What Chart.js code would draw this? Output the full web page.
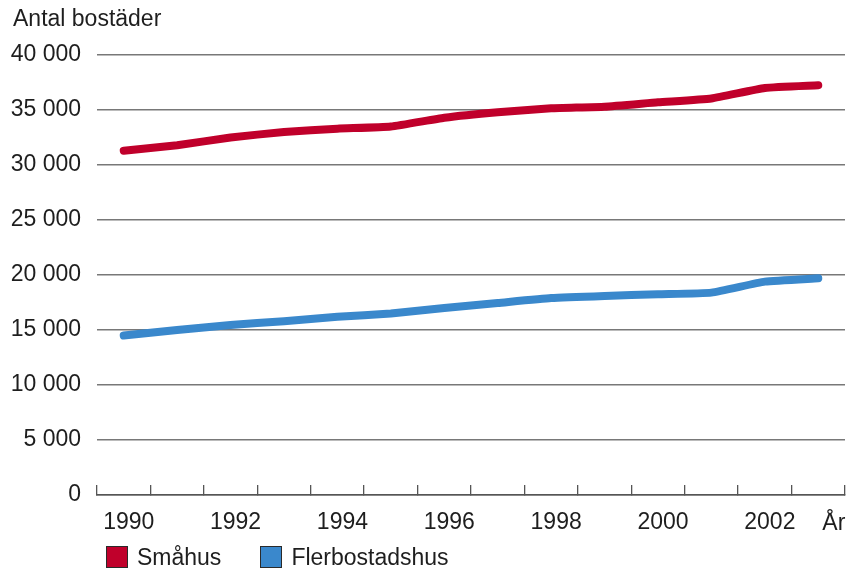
<!DOCTYPE html>
<html>
<head>
<meta charset="utf-8">
<script src="https://cdn.jsdelivr.net/npm/chart.js@4/dist/chart.umd.min.js"></script>
<style>
  html, body { margin: 0; padding: 0; background: #fff; }
  #wrap { position: relative; width: 849px; height: 570px; }
  #legend { position: absolute; left: 106px; top: 546px; display: flex; font: 23px 'Liberation Sans', Arial, sans-serif; color: #1e1e1e; line-height: 22px; }
  #legend .item { display: flex; align-items: center; margin-right: 39px; }
  #legend .box { width: 20px; height: 20px; border: 1px solid #2a2a2a; margin-right: 9px; }
</style>
</head>
<body>
<div id="wrap">
  <canvas id="c" width="849" height="570"></canvas>
  <div id="legend"></div>
</div>
<script>
// Bostadsbestånd per år
const years = ['1990','1991','1992','1993','1994','1995','1996','1997','1998','1999','2000','2001','2002','2003'];
const smahus = [31300, 31800, 32500, 33000, 33300, 33500, 34300, 34800, 35150, 35300, 35700, 36050, 37000, 37250];
const flerbostadshus = [14500, 15000, 15450, 15800, 16200, 16500, 17000, 17450, 17900, 18100, 18250, 18400, 19400, 19700];
const seriesNames = ['Småhus', 'Flerbostadshus'];
const yTitle = 'Antal bostäder';
const xTitle = 'År';

const FONT = "'Liberation Sans', Arial, sans-serif";
const TEXT = '#1e1e1e';

// axis captions: y-axis unit above the plot, x-axis unit after the last year
const axisCaptions = {
  id: 'axisCaptions',
  afterDraw(chart) {
    const { ctx, scales: { x } } = chart;
    ctx.save();
    ctx.font = '23px ' + FONT;
    ctx.fillStyle = TEXT;
    ctx.textAlign = 'left';
    ctx.textBaseline = 'alphabetic';
    ctx.fillText(yTitle, 13, 26);
    ctx.fillText(xTitle, x.getPixelForValue(years.length - 1) + 4, 530);
    ctx.restore();
  }
};

const fmt = v => String(v).replace(/\B(?=(\d{3})+(?!\d))/g, ' ');

const chart = new Chart(document.getElementById('c'), {
  type: 'line',
  data: {
    labels: years,
    datasets: [
      { label: seriesNames[0], data: smahus, borderColor: '#c0002b', backgroundColor: '#c0002b' },
      { label: seriesNames[1], data: flerbostadshus, borderColor: '#3a88cc', backgroundColor: '#3a88cc' }
    ]
  },
  options: {
    responsive: false,
    animation: false,
    layout: { padding: { left: 0, right: 4, top: 55, bottom: 30 } },
    elements: {
      line: { borderWidth: 8, tension: 0.15, borderCapStyle: 'round', borderJoinStyle: 'round', fill: false },
      point: { radius: 0, hoverRadius: 0 }
    },
    plugins: { legend: { display: false }, title: { display: false }, tooltip: { enabled: false } },
    scales: {
      x: {
        offset: true,
        grid: { offset: true, drawOnChartArea: false, drawTicks: true, tickLength: -10, color: '#555', lineWidth: 1.3 },
        border: { display: true, color: '#555', width: 1.6 },
        ticks: {
          autoSkip: false, maxRotation: 0, labelOffset: 5, padding: 24,
          color: TEXT, font: { family: FONT, size: 23 },
          callback: (v, i) => (i % 2 === 0 ? years[i] : '')
        },
        afterFit: s => { s.height = 45; }
      },
      y: {
        min: 0, max: 40000,
        grid: { color: '#787878', lineWidth: 1.5, drawTicks: false },
        border: { display: false },
        ticks: {
          stepSize: 5000, padding: 16,
          color: TEXT, font: { family: FONT, size: 23 },
          callback: v => fmt(v)
        },
        afterFit: s => { s.width = 97; }
      }
    }
  },
  plugins: [axisCaptions]
});

// HTML legend built from the chart's datasets
const legendEl = document.getElementById('legend');
chart.data.datasets.forEach(ds => {
  const item = document.createElement('div');
  item.className = 'item';
  const box = document.createElement('span');
  box.className = 'box';
  box.style.background = ds.backgroundColor;
  const txt = document.createElement('span');
  txt.textContent = ds.label;
  item.appendChild(box);
  item.appendChild(txt);
  legendEl.appendChild(item);
});
</script>
</body>
</html>
